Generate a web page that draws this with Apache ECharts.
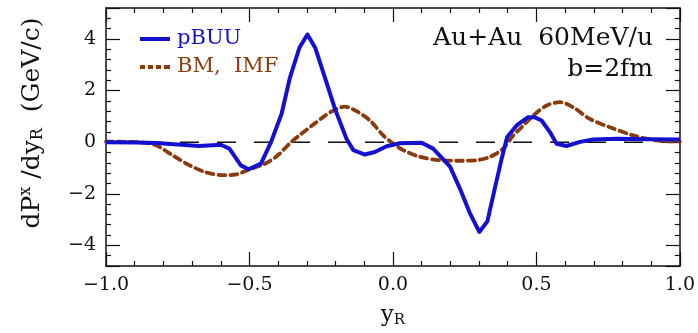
<!DOCTYPE html>
<html>
<head>
<meta charset="utf-8">
<script src="https://cdn.jsdelivr.net/npm/echarts@6/dist/echarts.min.js"></script>
<style>
  html, body { margin: 0; padding: 0; background: #fff; }
  #chart { width: 698px; height: 333px; }
</style>
</head>
<body>
<div id="chart"></div>
<script>
// Transverse momentum transfer per unit rapidity, Au+Au at 60 MeV/u, b = 2 fm
const seriesNames = ['pBUU', 'BM,  IMF'];

// pBUU transport result: [y_R, dP^x/dy_R]
const pbuu = [
  [-1.0, 0.0], [-0.9, -0.01], [-0.826, -0.03], [-0.75, -0.09], [-0.675, -0.15],
  [-0.6, -0.1], [-0.57, -0.25], [-0.53, -0.9], [-0.503, -1.05], [-0.46, -0.83],
  [-0.425, 0.0], [-0.388, 1.1], [-0.359, 2.5], [-0.326, 3.66], [-0.298, 4.17],
  [-0.271, 3.66], [-0.237, 2.5], [-0.202, 1.29], [-0.162, 0.13], [-0.138, -0.31],
  [-0.098, -0.48], [-0.063, -0.38], [-0.022, -0.16], [0.024, -0.04], [0.1, -0.02],
  [0.14, -0.25], [0.199, -0.95], [0.233, -1.79], [0.268, -2.75], [0.301, -3.48],
  [0.329, -3.07], [0.355, -1.79], [0.379, -0.63], [0.398, 0.2], [0.431, 0.65],
  [0.471, 0.97], [0.493, 0.97], [0.518, 0.84], [0.547, 0.39], [0.57, -0.06],
  [0.605, -0.15], [0.652, 0.01], [0.698, 0.1], [0.78, 0.13], [0.895, 0.11], [1.0, 0.1]
];

// BM + IMF result: [y_R, dP^x/dy_R]
const bmImf = [
  [-1.0, 0.02], [-0.884, 0.0], [-0.826, -0.12], [-0.768, -0.51], [-0.71, -0.89],
  [-0.652, -1.17], [-0.593, -1.28], [-0.547, -1.25], [-0.5, -1.06], [-0.443, -0.82],
  [-0.4, -0.5], [-0.36, -0.05], [-0.32, 0.32], [-0.28, 0.66], [-0.24, 1.0],
  [-0.2, 1.27], [-0.167, 1.38], [-0.127, 1.2], [-0.08, 0.84], [-0.034, 0.26],
  [0.0, -0.05], [0.036, -0.31], [0.094, -0.57], [0.164, -0.7], [0.233, -0.72],
  [0.291, -0.7], [0.338, -0.57], [0.384, -0.25], [0.419, 0.26], [0.443, 0.52],
  [0.489, 1.03], [0.536, 1.42], [0.582, 1.55], [0.628, 1.35], [0.686, 0.9],
  [0.756, 0.58], [0.837, 0.26], [0.919, 0.07], [1.0, 0.03]
];

// zero reference line
const zeroLine = [[-1.0, 0], [1.0, 0]];

const xRange = [-1.0, 1.0];
const yRange = [-4.8, 5.2];
const yLabelValues = [-4, -2, 0, 2, 4];

const serif = '"DejaVu Serif", "Liberation Serif", serif';
const ink = '#111';
const blue = '#1410d2';
const brown = '#8a3a0c';

const fmtMinus = s => s.replace('-', '\u2212');

// legend glyphs: solid bar and a four-dash bar
const solidIcon = 'path://M0,0H30V4H0Z';
const dashIcon = 'path://M0,0H5V4H0Z M8,0H13V4H8Z M16,0H21V4H16Z M24,0H30V4H24Z';

function xAxisDef(pos, showLabel) {
  return {
    type: 'value', position: pos, min: xRange[0], max: xRange[1], interval: 0.5,
    axisLine: { show: true, onZero: false, lineStyle: { color: ink, width: 1.5 } },
    axisTick: { show: true, inside: true, length: 14, lineStyle: { color: ink, width: 1.2 } },
    minorTick: { show: true, splitNumber: 5, length: 5, lineStyle: { color: ink, width: 1.2 } },
    splitLine: { show: false },
    axisLabel: {
      show: showLabel, margin: 10, fontFamily: serif, fontSize: 19, color: ink,
      formatter: v => fmtMinus(v.toFixed(1))
    },
    name: showLabel ? '{b|y}{sub|R}' : '',
    nameLocation: 'middle', nameGap: 37,
    nameTextStyle: {
      rich: {
        b: { fontFamily: serif, fontSize: 23, color: ink },
        sub: { fontFamily: serif, fontSize: 15, color: ink, padding: [10, 0, 0, 0] }
      }
    }
  };
}

function yAxisDef(pos, showLabel) {
  return {
    type: 'value', position: pos, min: yRange[0], max: yRange[1], splitNumber: 5,
    axisLine: { show: true, onZero: false, lineStyle: { color: ink, width: 1.5 } },
    axisTick: { show: true, inside: true, length: 14, lineStyle: { color: ink, width: 1.2 } },
    minorTick: { show: true, splitNumber: 5, length: 5, lineStyle: { color: ink, width: 1.2 } },
    splitLine: { show: false },
    axisLabel: {
      show: showLabel, margin: 10, fontFamily: serif, fontSize: 19, color: ink,
      showMinLabel: false, showMaxLabel: false,
      formatter: v => yLabelValues.indexOf(v) >= 0 ? fmtMinus(String(v)) : ''
    },
    name: showLabel ? '{b|dP}{sup|x}{b| /dy}{sub|R}{b|  (GeV/c)}' : '',
    nameLocation: 'middle', nameRotate: 90, nameGap: 60,
    nameTextStyle: {
      padding: [0, 0, 0, 28],
      rich: {
        b: { fontFamily: serif, fontSize: 25, color: ink },
        sup: { fontFamily: serif, fontSize: 16, color: ink, padding: [0, 0, 12, 0] },
        sub: { fontFamily: serif, fontSize: 16, color: ink, padding: [12, 0, 0, 0] }
      }
    }
  };
}

const chart = echarts.init(document.getElementById('chart'), null, { renderer: 'canvas' });
chart.setOption({
  backgroundColor: '#fff',
  animation: false,
  grid: { left: 106, right: 17, top: 8, bottom: 65, containLabel: false },
  xAxis: [xAxisDef('bottom', true), xAxisDef('top', false)],
  yAxis: [yAxisDef('left', true), yAxisDef('right', false)],
  legend: {
    orient: 'vertical', left: 135, top: 23, itemWidth: 30, itemHeight: 4, itemGap: 6,
    textStyle: { fontFamily: serif, fontSize: 21, lineHeight: 22, padding: [0, 0, 0, 2] },
    data: [
      { name: seriesNames[0], icon: solidIcon, itemStyle: { color: blue }, textStyle: { color: blue } },
      { name: seriesNames[1], icon: dashIcon, itemStyle: { color: brown }, textStyle: { color: brown } }
    ]
  },
  graphic: [
    { type: 'text', right: 45, top: 26, style: { text: 'Au+Au  60MeV/u', font: '25px ' + serif, fill: ink } },
    { type: 'text', right: 45, top: 57, style: { text: 'b=2fm', font: '25px ' + serif, fill: ink } }
  ],
  series: [
    {
      type: 'line', data: zeroLine, symbol: 'none', silent: true, z: 1,
      lineStyle: { color: ink, width: 1.5, type: [19, 18] }
    },
    {
      name: seriesNames[1], type: 'line', data: bmImf, symbol: 'none', smooth: 0.3, z: 2,
      lineStyle: { color: brown, width: 3.8, type: [7, 5], cap: 'round' },
      itemStyle: { color: brown }
    },
    {
      name: seriesNames[0], type: 'line', data: pbuu, symbol: 'none', z: 3,
      lineStyle: { color: blue, width: 4, join: 'round' },
      itemStyle: { color: blue }
    }
  ]
});
</script>
</body>
</html>
